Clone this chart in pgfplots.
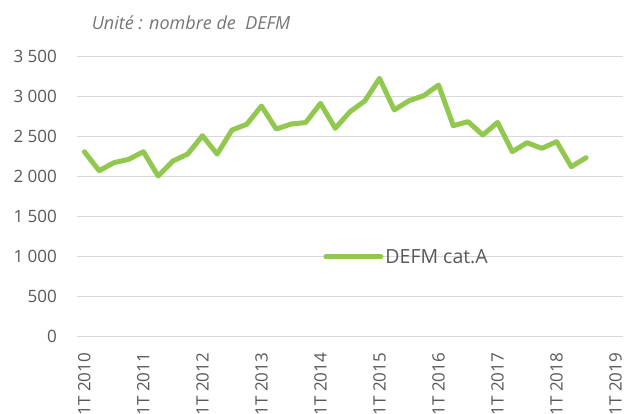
\documentclass[border=0pt]{standalone}
\usepackage{fontspec}
\setmainfont{Open Sans}
\usepackage{pgfplots}
\pgfplotsset{compat=1.18}
\definecolor{linegreen}{RGB}{146,200,80}
\definecolor{gridgray}{RGB}{217,217,217}
\definecolor{labgray}{RGB}{89,89,89}
\definecolor{titlegray}{RGB}{118,118,118}
\begin{document}
\begin{tikzpicture}[x=1pt,y=1pt]
\begin{axis}[
  at={(77pt,77.3pt)}, anchor=south west,
  scale only axis, width=546pt, height=280pt,
  xmin=-0.5, xmax=36.5, ymin=0, ymax=3500,
  axis line style={draw=none},
  major tick length=0pt,
  ymajorgrids, grid style={gridgray, line width=1.4pt},
  ytick={0,500,1000,1500,2000,2500,3000,3500},
  yticklabels={0,500,1 000,1 500,2 000,2 500,3 000,3 500},
  xtick={0,4,8,12,16,20,24,28,32,36},
  xticklabels={1T 2010,1T 2011,1T 2012,1T 2013,1T 2014,1T 2015,1T 2016,1T 2017,1T 2018,1T 2019},
  yticklabel style={font=\fontsize{17}{19}\selectfont, text=labgray, anchor=east, inner sep=0pt, xshift=-20pt},
  xticklabel style={font=\fontsize{17}{19}\selectfont, text=labgray, yshift=-16pt, rotate=90, anchor=east, inner sep=0pt},
  legend style={draw=none, fill=none, at={(0.451,0.285)}, anchor=west, inner sep=0pt,
    font=\fontsize{19.5}{21}\selectfont, text=labgray},
  legend image code/.code={\draw[#1] (0pt,0pt) -- (55pt,0pt);},
  legend cell align=left,
  legend style={/tikz/every even column/.append style={column sep=0pt}},
  clip=false,
]
\addplot[color=linegreen, line width=5pt, line join=round, line cap=round] coordinates {
(0,2312) (1,2075) (2,2175) (3,2217) (4,2312) (5,2008) (6,2196) (7,2283)
(8,2512) (9,2283) (10,2583) (11,2655) (12,2883) (13,2596) (14,2658) (15,2677)
(16,2917) (17,2605) (18,2812) (19,2946) (20,3229) (21,2834) (22,2950) (23,3013)
(24,3146) (25,2638) (26,2688) (27,2521) (28,2679) (29,2313) (30,2425) (31,2354)
(32,2438) (33,2125) (34,2238)
};
\addlegendentry{DEFM cat.A}
\end{axis}
\node[font=\fontsize{18}{20}\selectfont\itshape, text=titlegray] at (191pt,391pt) {Unité : nombre de\ \ DEFM};
\pgfresetboundingbox
\path[use as bounding box] (0,0) rectangle (627pt,414pt);
\end{tikzpicture}
\end{document}
